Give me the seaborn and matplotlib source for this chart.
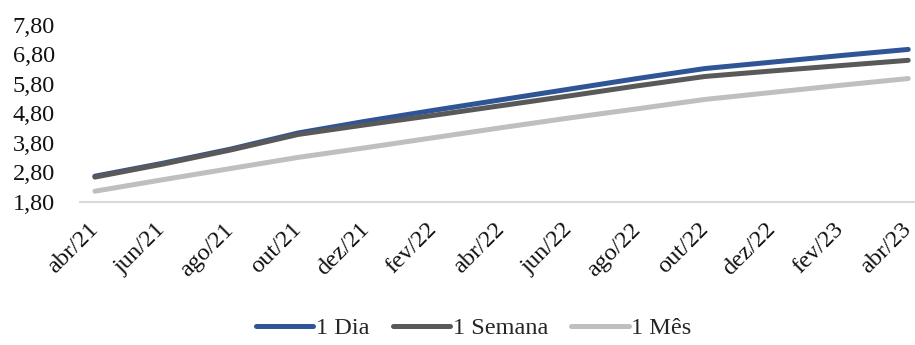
import numpy as np
import pandas as pd
import matplotlib
matplotlib.use("Agg")
import matplotlib.pyplot as plt
import seaborn as sns

# Bi-monthly reference dates
meses = ["abr/21", "jun/21", "ago/21", "out/21", "dez/21", "fev/22", "abr/22",
         "jun/22", "ago/22", "out/22", "dez/22", "fev/23", "abr/23"]

# Rates (%) for each horizon
dia = [2.66, 3.10, 3.58, 4.13, 4.53, 4.90, 5.26, 5.62, 5.98, 6.32, 6.54, 6.76, 6.97]
semana = [2.63, 3.07, 3.55, 4.08, 4.41, 4.73, 5.06, 5.39, 5.73, 6.05, 6.24, 6.42, 6.60]
mes = [2.15, 2.54, 2.92, 3.30, 3.63, 3.97, 4.31, 4.64, 4.95, 5.27, 5.51, 5.75, 5.98]

series = ["1 Dia", "1 Semana", "1 Mês"]
cores = ["#2F5597", "#595959", "#BFBFBF"]
yticks = [1.80, 2.80, 3.80, 4.80, 5.80, 6.80, 7.80]

df = pd.DataFrame({
    "pos": list(range(len(meses))) * 3,
    "taxa": dia + semana + mes,
    "serie": [series[0]] * len(meses) + [series[1]] * len(meses) + [series[2]] * len(meses),
})

sns.set_theme(style="white")
plt.rcParams["font.family"] = ["Liberation Serif", "DejaVu Serif"]

FS = 17.5

fig = plt.figure(figsize=(9.15, 3.45), dpi=100)
ax = fig.add_axes([80 / 915, 1 - 201.5 / 345, 835 / 915, (201.5 - 25) / 345])

sns.lineplot(data=df, x="pos", y="taxa", hue="serie", hue_order=series,
             palette=cores, linewidth=3.6, ax=ax, legend=False,
             solid_capstyle="round")

ax.set_xlim(-0.22, 12.10)
ax.set_ylim(1.80, 7.80)
ax.set_yticks(yticks)
ax.set_yticklabels([f"{v:.2f}".replace(".", ",") for v in yticks], fontsize=FS, color="#111111")
ax.set_xticks(range(len(meses)))
ax.set_xticklabels(meses, rotation=45, ha="right", va="center", rotation_mode="anchor",
                   fontsize=FS, color="#111111")
ax.tick_params(axis="both", length=0)
ax.tick_params(axis="y", pad=18)
ax.tick_params(axis="x", pad=18)
ax.set_xlabel("")
ax.set_ylabel("")

for s in ["top", "right", "left"]:
    ax.spines[s].set_visible(False)
ax.spines["bottom"].set_color("#D9D9D9")
ax.spines["bottom"].set_linewidth(1.5)

handles = [plt.Line2D([], [], color=c, linewidth=3.6, solid_capstyle="round") for c in cores]
fig.legend(handles, series, loc="center", bbox_to_anchor=(0.518, 1 - 328 / 345), ncol=3,
           frameon=False, fontsize=FS, handlelength=2.35, handletextpad=0.12,
           columnspacing=0.95)

fig.savefig("out.png", dpi=100)
